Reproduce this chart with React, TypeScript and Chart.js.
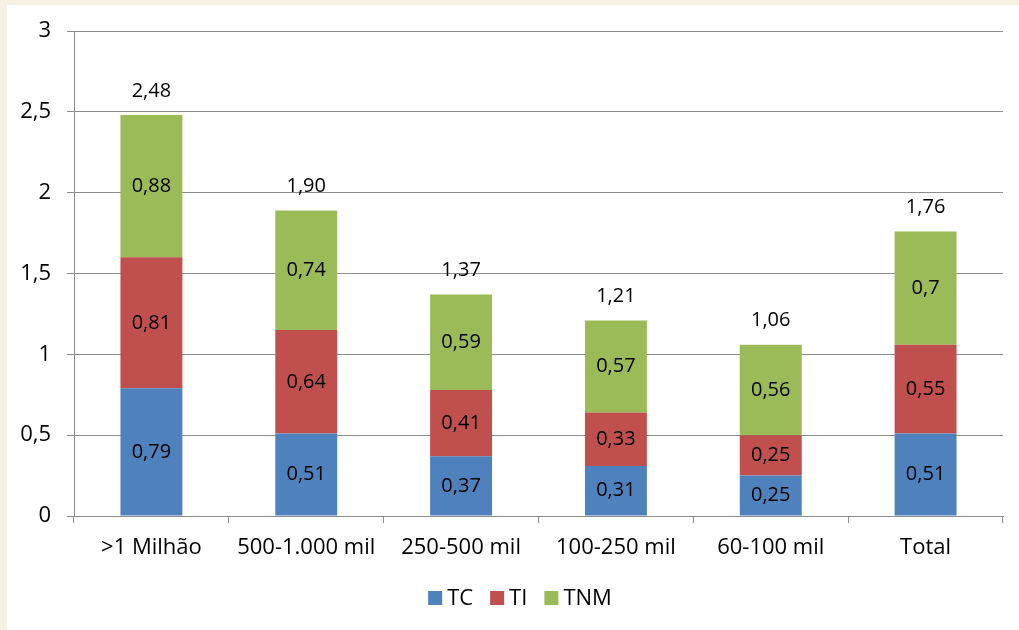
import React, { useEffect, useRef } from "react";
import { Chart, registerables } from "chart.js";

Chart.register(...registerables);

const categories = [">1 Milhão", "500-1.000 mil", "250-500 mil", "100-250 mil", "60-100 mil", "Total"];
const tcValues = [0.79, 0.51, 0.37, 0.31, 0.25, 0.51];
const tiValues = [0.81, 0.64, 0.41, 0.33, 0.25, 0.55];
const tnmValues = [0.88, 0.74, 0.59, 0.57, 0.56, 0.7];
const totalLabels = ["2,48", "1,90", "1,37", "1,21", "1,06", "1,76"];
const yTicks = [0, 0.5, 1, 1.5, 2, 2.5, 3];

const FONT = "'Open Sans', sans-serif";
const FS = 20;
const AXFS = 22;

const fmt = (v: number) => String(v).replace(".", ",");

const labelsPlugin = {
  id: "barLabels",
  afterDatasetsDraw(chart: any) {
    const ctx = chart.ctx;
    ctx.save();
    ctx.font = `${FS}px ${FONT}`;
    ctx.fillStyle = "#000";
    ctx.textAlign = "center";
    ctx.textBaseline = "middle";
    chart.data.datasets.forEach((ds: any, di: number) => {
      const meta = chart.getDatasetMeta(di);
      meta.data.forEach((el: any, i: number) => {
        const { x, y, base } = el.getProps(["x", "y", "base"], true);
        ctx.fillText(fmt(ds.data[i]), x, (y + base) / 2);
      });
    });
    const last = chart.getDatasetMeta(chart.data.datasets.length - 1);
    last.data.forEach((el: any, i: number) => {
      const { x, y } = el.getProps(["x", "y"], true);
      ctx.fillText(totalLabels[i], x, y - 24);
    });
    // legend
    ctx.font = `${AXFS}px ${FONT}`;
    const items = chart.data.datasets.map((d: any) => ({ text: d.label, color: d.backgroundColor }));
    const sq = 14, gap = 5, spacing = 17;
    const widths = items.map((it: any) => sq + gap + ctx.measureText(it.text).width);
    const total = widths.reduce((a: number, b: number) => a + b, 0) + spacing * (items.length - 1);
    let lx = 513 - total / 2;
    const ly = 593;
    ctx.textAlign = "left";
    items.forEach((it: any, k: number) => {
      ctx.fillStyle = it.color;
      ctx.fillRect(lx, ly - sq / 2, sq, sq);
      ctx.fillStyle = "#000";
      ctx.fillText(it.text, lx + sq + gap, ly + 1);
      lx += widths[k] + spacing;
    });
    ctx.restore();
  },
};

export default function App() {
  const ref = useRef<HTMLCanvasElement>(null);
  useEffect(() => {
    if (!ref.current) return;
    const chart = new Chart(ref.current, {
      type: "bar",
      data: {
        labels: categories,
        datasets: [
          { label: "TC", data: tcValues, backgroundColor: "#4F81BD" },
          { label: "TI", data: tiValues, backgroundColor: "#C0504D" },
          { label: "TNM", data: tnmValues, backgroundColor: "#9BBB59" },
        ],
      },
      options: {
        animation: false,
        responsive: false,
        maintainAspectRatio: false,
        layout: { padding: { top: 26, right: 16, left: 0, bottom: 0 } },
        datasets: { bar: { categoryPercentage: 1, barPercentage: 0.4 } },
        plugins: { legend: { display: false }, tooltip: { enabled: false } },
        scales: {
          x: {
            stacked: true,
            grid: { drawOnChartArea: false, drawTicks: true, tickLength: 7, color: "#8c8c8c", offset: true },
            border: { color: "#8c8c8c" },
            ticks: { font: { family: FONT, size: AXFS }, color: "#000", padding: 12, maxRotation: 0 },
            afterFit: (s: any) => { s.height = 114; s.paddingLeft = 0; s.paddingRight = 0; },
          },
          y: {
            stacked: true,
            min: 0,
            max: 3,
            afterBuildTicks: (s: any) => { s.ticks = yTicks.map((v) => ({ value: v })); },
            grid: { color: "#8c8c8c", tickLength: 7 },
            border: { color: "#8c8c8c" },
            ticks: {
              font: { family: FONT, size: AXFS },
              color: "#000",
              padding: 16,
              callback: (v: any) => fmt(Number(v)),
            },
            afterFit: (s: any) => { s.width = 67; s.paddingTop = 0; s.paddingBottom = 0; },
          },
        },
      },
      plugins: [labelsPlugin],
    });
    return () => chart.destroy();
  }, []);
  return (
    <div style={{ position: "absolute", left: 0, top: 0, width: 1019, height: 630, background: "#F5F1E3" }}>
      <div style={{ position: "absolute", left: 7, top: 5, width: 1012, height: 625, background: "#fff" }}>
        <canvas ref={ref} width={1012} height={625} style={{ display: "block" }} />
      </div>
    </div>
  );
}
